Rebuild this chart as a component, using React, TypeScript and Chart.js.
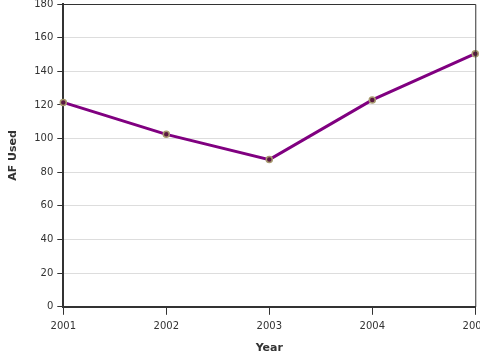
import React, { useEffect, useRef } from "react";
import { Chart, registerables } from "chart.js";

Chart.register(...registerables);

const years = ["2001", "2002", "2003", "2004", "2005"];
const afUsed = [121.5, 102.5, 87.5, 123, 150.5];
const yMin = 0;
const yMax = 180;
const yStep = 20;

const frame = {
  id: "frame",
  afterDraw(chart: any) {
    const { ctx, chartArea } = chart;
    ctx.save();
    ctx.strokeStyle = "#333";
    ctx.lineWidth = 1;
    ctx.beginPath();
    ctx.moveTo(chartArea.left, chartArea.top + 0.5);
    ctx.lineTo(chartArea.right + 0.5, chartArea.top + 0.5);
    ctx.lineTo(chartArea.right + 0.5, chartArea.bottom);
    ctx.stroke();
    ctx.restore();
  },
};

export default function App() {
  const ref = useRef<HTMLCanvasElement>(null);
  useEffect(() => {
    const chart = new Chart(ref.current!, {
      type: "line",
      data: {
        labels: years,
        datasets: [
          {
            data: afUsed,
            borderColor: "#800080",
            borderWidth: 3,
            pointRadius: 3,
            pointBackgroundColor: "#5a1840",
            pointBorderColor: "#a89a70",
            pointBorderWidth: 1.5,
            tension: 0,
          },
        ],
      },
      options: {
        animation: false,
        responsive: false,
        layout: { padding: { top: 0, bottom: 1, left: 3 } },
        plugins: { legend: { display: false }, tooltip: { enabled: false } },
        scales: {
          x: {
            offset: false,
            grid: { drawOnChartArea: false, drawTicks: true, tickColor: "#333", tickLength: 8 },
            border: { display: true, color: "#333", width: 2 },
            ticks: { color: "#333", font: { family: "DejaVu Sans", size: 10 }, padding: 6, maxRotation: 0 },
            title: { display: true, text: "Year", color: "#333", font: { family: "DejaVu Sans", size: 11, weight: "bold" }, padding: { top: 3 } },
          },
          y: {
            min: yMin,
            max: yMax,
            grid: { color: "#ddd", tickColor: "#333", tickLength: 6 },
            border: { display: true, color: "#333", width: 2 },
            ticks: { stepSize: yStep, color: "#333", font: { family: "DejaVu Sans", size: 10 }, padding: 4 },
            title: { display: true, text: "AF Used", color: "#333", font: { family: "DejaVu Sans", size: 11, weight: "bold" }, padding: { bottom: 10 } },
          },
        },
      },
      plugins: [frame],
    });
    return () => chart.destroy();
  }, []);
  return (
    <div style={{ position: "absolute", left: 0, top: -6, width: 494, height: 366 }}>
      <canvas ref={ref} width={494} height={366} />
    </div>
  );
}
